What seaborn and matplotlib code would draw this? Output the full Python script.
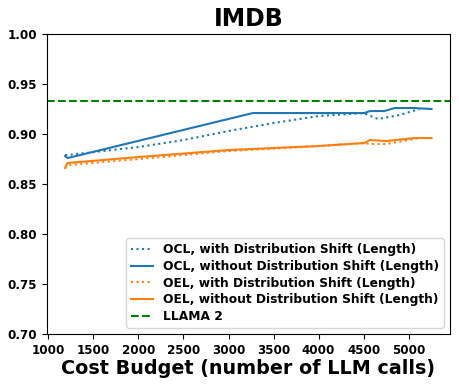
import numpy as np
import pandas as pd
import matplotlib
matplotlib.use("Agg")
import matplotlib.pyplot as plt
import seaborn as sns

# Data
ocl_shift_x = [1185, 1215, 2000, 2500, 3000, 3500, 4000, 4500, 4660, 4900, 5120]
ocl_shift_y = [0.879, 0.879, 0.887, 0.894, 0.903, 0.911, 0.918, 0.921, 0.915, 0.919, 0.925]

ocl_noshift_x = [1185, 1215, 3270, 4510, 4570, 4730, 4845, 5070, 5255]
ocl_noshift_y = [0.878, 0.876, 0.921, 0.921, 0.923, 0.923, 0.926, 0.926, 0.925]

oel_shift_x = [1185, 1215, 2000, 3000, 4000, 4510, 4570, 4750, 5120]
oel_shift_y = [0.866, 0.869, 0.875, 0.883, 0.888, 0.891, 0.890, 0.890, 0.896]

oel_noshift_x = [1185, 1210, 2000, 3000, 4000, 4510, 4570, 4750, 5070, 5255]
oel_noshift_y = [0.866, 0.871, 0.877, 0.884, 0.888, 0.891, 0.894, 0.893, 0.896, 0.896]

llama2_acc = 0.933

labels = ["OCL, with Distribution Shift (Length)",
          "OCL, without Distribution Shift (Length)",
          "OEL, with Distribution Shift (Length)",
          "OEL, without Distribution Shift (Length)"]

fig = plt.figure(figsize=(4.59, 3.87), dpi=100)
ax = fig.add_axes([0.102, 0.137, 0.878, 0.775])

series = [(ocl_shift_x, ocl_shift_y, "#1f77b4", ":"),
          (ocl_noshift_x, ocl_noshift_y, "#1f77b4", "-"),
          (oel_shift_x, oel_shift_y, "#ff7f0e", ":"),
          (oel_noshift_x, oel_noshift_y, "#ff7f0e", "-")]

for (xs, ys, c, ls), lab in zip(series, labels):
    df = pd.DataFrame({"x": xs, "y": ys})
    sns.lineplot(data=df, x="x", y="y", color=c, linestyle=ls, linewidth=1.5,
                 label=lab, ax=ax, estimator=None, sort=False)

ax.axhline(llama2_acc, color="g", linestyle="--", linewidth=1.5, label="LLAMA 2")

ax.set_ylim(0.70, 1.00)
ax.set_yticks(np.arange(0.70, 1.001, 0.05))
ax.set_yticklabels([f"{v:.2f}" for v in np.arange(0.70, 1.001, 0.05)])
ax.set_xticks(range(1000, 5001, 500))
ax.set_xlim(982, 5458)

for t in ax.get_xticklabels() + ax.get_yticklabels():
    t.set_fontweight("bold")
    t.set_fontsize(8.6)

ax.set_title("IMDB", fontsize=17, fontweight="bold")
ax.set_xlabel("Cost Budget (number of LLM calls)", fontsize=13.8, fontweight="bold", labelpad=2)
ax.set_ylabel("")

ax.legend(loc="lower right", prop={"weight": "bold", "size": 8.8},
          labelspacing=0.3, handlelength=1.8)

fig.savefig("out.png", dpi=100)
